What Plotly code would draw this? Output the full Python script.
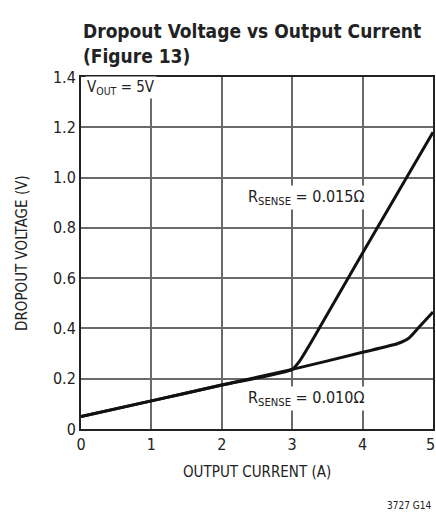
import plotly.graph_objects as go

# data
i_010 = [0, 1, 2, 3, 4, 4.5, 4.65, 4.8, 5.0]
v_010 = [0.05, 0.112, 0.175, 0.237, 0.305, 0.34, 0.36, 0.405, 0.465]
i_015 = [0, 1, 2, 3.0, 3.1, 3.3, 4.0, 5.0]
v_015 = [0.05, 0.112, 0.175, 0.237, 0.268, 0.36, 0.70, 1.18]
x_ticks = [0, 1, 2, 3, 4, 5]
y_ticks = [0, 0.2, 0.4, 0.6, 0.8, 1.0, 1.2, 1.4]
y_labels = ["0", "0.2", "0.4", "0.6", "0.8", "1.0", "1.2", "1.4"]

FONT = "DejaVu Sans Condensed, Liberation Sans Narrow, DejaVu Sans, sans-serif"

fig = go.Figure()
for xs, ys in [(i_015, v_015), (i_010, v_010)]:
    fig.add_trace(go.Scatter(x=xs, y=ys, mode="lines",
                             line=dict(color="#111", width=3, shape="spline", smoothing=0.6),
                             showlegend=False, hoverinfo="skip"))

fig.update_layout(
    width=436, height=518,
    margin=dict(l=81, r=3, t=77, b=89),
    paper_bgcolor="white", plot_bgcolor="white",
    font=dict(family=FONT, color="#222", size=15),
    xaxis=dict(range=[0, 5], tickvals=x_ticks[:-1], ticktext=[str(v) for v in x_ticks[:-1]],
               showgrid=True, gridcolor="#6a6a6a", gridwidth=1.5,
               showline=True, linecolor="#222", linewidth=2, mirror=True,
               zeroline=False, ticks="", tickfont=dict(size=16), automargin=False),
    yaxis=dict(range=[0, 1.4], tickvals=y_ticks, ticktext=y_labels,
               showgrid=True, gridcolor="#6a6a6a", gridwidth=1.5,
               showline=True, linecolor="#222", linewidth=2, mirror=True,
               zeroline=False, ticks="", tickfont=dict(size=16), automargin=False),
)

# last x tick label, at the right edge of the frame
fig.add_annotation(text=str(x_ticks[-1]), xref="x", yref="paper", x=x_ticks[-1], y=0,
                   xanchor="right", yanchor="top", xshift=4, yshift=-4, showarrow=False,
                   font=dict(size=16))
fig.add_annotation(text="<b>Dropout Voltage vs Output Current<br>(Figure 13)</b>",
                   xref="paper", yref="paper", x=0, y=1, xanchor="left", yanchor="bottom",
                   yshift=8, align="left", showarrow=False,
                   font=dict(size=19, color="#222", family=FONT))
fig.add_annotation(text="OUTPUT CURRENT (A)", xref="paper", yref="paper", x=0.5, y=0,
                   xanchor="center", yanchor="middle", yshift=-43, showarrow=False,
                   font=dict(size=15))
fig.add_annotation(text="DROPOUT VOLTAGE (V)", xref="paper", yref="paper", x=0, y=0.5,
                   xanchor="center", yanchor="middle", xshift=-59, textangle=-90,
                   showarrow=False, font=dict(size=15))
fig.add_annotation(text="V<sub>OUT</sub> = 5V", xref="x", yref="y", x=0.06, y=1.36,
                   xanchor="left", yanchor="middle", showarrow=False,
                   bgcolor="white", font=dict(size=15))
fig.add_annotation(text="R<sub>SENSE</sub> = 0.015Ω", xref="x", yref="y", x=3.2, y=0.92,
                   xanchor="center", yanchor="middle", showarrow=False,
                   bgcolor="white", font=dict(size=16))
fig.add_annotation(text="R<sub>SENSE</sub> = 0.010Ω", xref="x", yref="y", x=3.2, y=0.12,
                   xanchor="center", yanchor="middle", showarrow=False,
                   bgcolor="white", font=dict(size=16))
fig.add_annotation(text="3727 G14", xref="paper", yref="paper", x=1, y=0,
                   xanchor="right", yanchor="middle", yshift=-76, showarrow=False,
                   font=dict(size=10))

fig.write_html("out.html", config={"displayModeBar": False},
               post_script="document.body.style.margin='0';")
